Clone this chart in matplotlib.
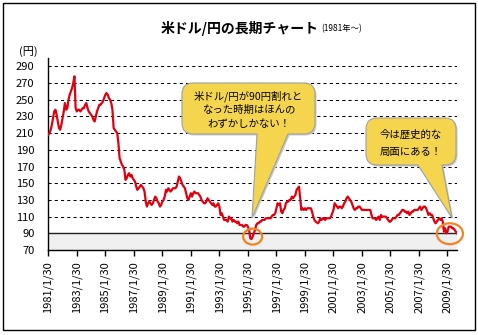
import matplotlib
matplotlib.use('Agg')
import matplotlib.pyplot as plt
import matplotlib.patches as mpatches
import matplotlib.transforms as mtransforms
from matplotlib.path import Path
import numpy as np

plt.rcParams['font.family'] = ['Noto Sans CJK JP', 'DejaVu Sans']

# monthly USD/JPY, Jan 1981 .. Sep 2009
start_year = 1981
usdjpy = [
    208, 210, 214, 220, 228, 236, 238, 232, 224, 216, 214, 220,  # 1981
    228, 236, 246, 238, 240, 250, 256, 260, 264, 270, 278, 240,  # 1982
    236, 238, 238, 236, 238, 240, 240, 244, 246, 240, 236, 234,  # 1983
    232, 230, 226, 224, 230, 236, 240, 244, 244, 246, 248, 252,  # 1984
    256, 258, 256, 252, 250, 246, 238, 216, 214, 212, 210, 198,  # 1985
    180, 176, 172, 170, 166, 154, 156, 160, 162, 158, 160, 156,  # 1986
    154, 152, 146, 142, 144, 146, 148, 146, 144, 140, 128, 122,  # 1987
    126, 128, 126, 124, 126, 130, 134, 132, 128, 126, 122, 124,  # 1988
    128, 130, 134, 142, 140, 144, 142, 140, 142, 144, 144, 144,  # 1989
    146, 152, 158, 156, 152, 148, 146, 144, 138, 132, 130, 134,  # 1990
    138, 134, 138, 140, 138, 138, 138, 136, 134, 130, 128, 126,  # 1991
    126, 128, 132, 130, 128, 126, 124, 126, 122, 122, 124, 126,  # 1992
    122, 112, 114, 110, 106, 106, 106, 104, 110, 108, 108, 104,  # 1993
    106, 104, 104, 102, 104, 100, 100, 100, 98, 98, 100, 100,    # 1994
    98, 94, 84, 83, 86, 90, 94, 100, 102, 102, 104, 104,         # 1995
    106, 106, 106, 108, 108, 108, 108, 108, 110, 112, 112, 114,  # 1996
    120, 126, 124, 126, 116, 114, 118, 120, 126, 128, 128, 130,  # 1997
    130, 134, 132, 134, 136, 142, 144, 146, 132, 118, 120, 118,  # 1998
    120, 118, 120, 120, 120, 120, 116, 110, 106, 104, 103, 102,  # 1999
    104, 108, 106, 108, 108, 106, 108, 108, 108, 108, 110, 114,  # 2000
    118, 126, 124, 122, 120, 122, 122, 120, 122, 126, 128, 132,  # 2001
    134, 132, 130, 128, 124, 120, 118, 120, 120, 122, 122, 120,  # 2002
    118, 118, 118, 118, 118, 118, 118, 118, 112, 108, 108, 108,  # 2003
    106, 108, 110, 106, 112, 110, 110, 110, 110, 108, 106, 104,  # 2004
    104, 106, 108, 108, 108, 110, 112, 112, 114, 116, 118, 118,  # 2005
    116, 116, 114, 116, 112, 114, 116, 116, 118, 118, 118, 118,  # 2006
    120, 122, 118, 120, 122, 122, 120, 116, 112, 114, 112, 112,  # 2007
    108, 104, 102, 104, 106, 108, 106, 108, 104, 92, 96, 90,     # 2008
    92, 98, 98, 98, 96, 96, 94, 92, 90,                          # 2009
]
tick_years = list(range(1981, 2010, 2))
tick_labels = [f'{y}/1/30' for y in tick_years]
yticks = list(range(70, 300, 20))

W, H = 478, 335
fig = plt.figure(figsize=(W / 100, H / 100), dpi=100)
# transform for placing things in reference pixel coords (y downward)
px = mtransforms.Affine2D().scale(1 / W, -1 / H).translate(0, 1) + fig.transFigure

# outer frame
fig.patches.append(mpatches.Rectangle((3, 3), 472, 327, transform=px, fill=False,
                                      edgecolor='black', linewidth=1.0))

ax = fig.add_axes([48.3 / W, (H - 250) / H, (457 - 48.3) / W, (250 - 58) / H])
n = len(usdjpy)
xs = np.arange(n)
ax.axhspan(70, 90, color='#f0f0f0', zorder=0)
for v in yticks[2:]:
    ax.axhline(v, color='black', lw=0.75, dashes=(3, 3), zorder=1)
ax.axhline(90, color='#222222', lw=1.0, zorder=1)
ax.plot(xs, usdjpy, color='#e00010', lw=1.6, zorder=3)

ax.set_xlim(0, n - 1)
ax.set_ylim(70, 300)
ax.set_yticks(yticks)
ax.set_yticklabels([str(v) for v in yticks], fontsize=8)
ax.set_xticks([(y - start_year) * 12 for y in tick_years])
ax.set_xticklabels(tick_labels, rotation=90, fontsize=8)
ax.tick_params(axis='y', length=0, pad=10)
ax.tick_params(axis='x', length=4, width=1, direction='out', pad=4)
for s in ['top', 'right']:
    ax.spines[s].set_visible(False)
for s in ['left', 'bottom']:
    ax.spines[s].set_linewidth(1.0)
ax.set_facecolor('none')

# orange circles around the sub-90 episodes
i95 = int(np.argmin(usdjpy[:200]))
ax.add_patch(mpatches.Ellipse((i95 + 1, usdjpy[i95] + 3), 16, 19, fill=False,
                              edgecolor='#f58220', lw=1.6, zorder=4))
ax.add_patch(mpatches.Ellipse((n - 7, 89.5), 22, 25, fill=False,
                              edgecolor='#f58220', lw=1.6, zorder=4, clip_on=False))

fig.text(28, 52, '(円)', transform=px, fontsize=8, ha='center', va='center')
fig.text(319, 28, '米ドル/円の長期チャート', transform=px, fontsize=10, weight='bold',
         ha='right', va='center')
fig.text(321, 29, '(1981年～)', transform=px, fontsize=6, ha='left', va='center')


def bubble(x0, y0, x1, y1, r, bl, br, tip):
    M, L, C = Path.MOVETO, Path.LINETO, Path.CURVE3
    verts = [(x0 + r, y0), (x1 - r, y0), (x1, y0), (x1, y0 + r), (x1, y1 - r),
             (x1, y1), (x1 - r, y1), (br, y1), tip, (bl, y1), (x0 + r, y1),
             (x0, y1), (x0, y1 - r), (x0, y0 + r), (x0, y0), (x0 + r, y0), (x0 + r, y0)]
    codes = [M, L, C, C, L, C, C, L, L, L, L, C, C, L, C, C, Path.CLOSEPOLY]
    path = Path(verts, codes)
    shadow = px + mtransforms.ScaledTranslation(1.5 / 100, -1.5 / 100, fig.dpi_scale_trans)
    fig.patches.append(mpatches.PathPatch(path, transform=shadow, facecolor='#c8c8c8',
                                          edgecolor='none', zorder=5))
    fig.patches.append(mpatches.PathPatch(path, transform=px, facecolor='#f5d54e',
                                          edgecolor='#a0a0a0', lw=0.8, zorder=6))


bubble(182, 83, 315, 134, 11, 257, 288, (252, 218))
for t, y in zip(['米ドル/円が90円割れと', 'なった時期はほんの', 'わずかしかない！'], [96, 110, 124]):
    fig.text(248.5, y, t, transform=px, fontsize=7.5, ha='center', va='center', zorder=7)

bubble(366, 118, 456, 165, 11, 418, 442, (452, 218))
for t, y in zip(['今は歴史的な', '局面にある！'], [135, 152]):
    fig.text(411, y, t, transform=px, fontsize=7.5, ha='center', va='center', zorder=7)

fig.savefig('out.png', dpi=100)
